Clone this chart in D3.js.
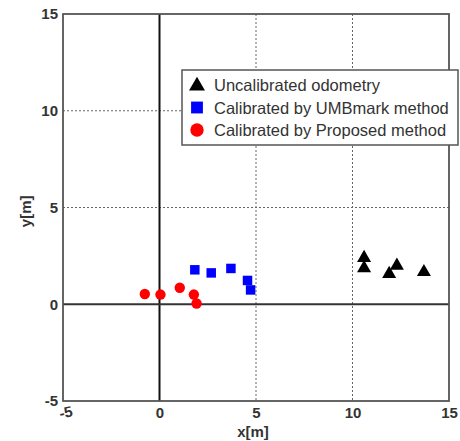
<!DOCTYPE html>
<html>
<head>
<meta charset="utf-8">
<script src="https://cdn.jsdelivr.net/npm/d3@7"></script>
<style>
  body { margin: 0; background: #fff; }
  text { font-family: "Liberation Sans", Arial, sans-serif; }
</style>
</head>
<body>
<svg id="chart"></svg>
<script>
// data
let uncalX = [10.6, 10.6, 12.3, 11.9, 13.7];
let uncalY = [2.45, 1.92, 2.05, 1.62, 1.72];

let umbX = [1.83, 2.68, 3.7, 4.56, 4.72];
let umbY = [1.78, 1.62, 1.85, 1.23, 0.74];

let propX = [-0.76, 0.05, 1.05, 1.78, 1.92];
let propY = [0.53, 0.5, 0.85, 0.5, 0.04];

let xTicks = [-5, 0, 5, 10, 15];
let yTicks = [-5, 0, 5, 10, 15];
let gridVals = [5, 10];

let legendLabels = ["Uncalibrated odometry", "Calibrated by UMBmark method", "Calibrated by Proposed method"];

let width = 460;
let height = 441;
let margin = {top: 14, right: 11, bottom: 40, left: 63};

let svg = d3.select("#chart").attr("width", width).attr("height", height);

let xScale = d3.scaleLinear().domain([-5, 15]).range([margin.left, width - margin.right]);
let yScale = d3.scaleLinear().domain([-5, 15]).range([height - margin.bottom, margin.top]);

let triangle = d3.symbol().type(d3.symbolTriangle);
let square = d3.symbol().type(d3.symbolSquare);
let circle = d3.symbol().type(d3.symbolCircle);

// grid -----------------------------------------------------------
let grid = svg.append("g");
grid.selectAll(".gx")
  .data(gridVals)
  .join("line")
  .attr("x1", d => xScale(d)).attr("x2", d => xScale(d))
  .attr("y1", yScale(15)).attr("y2", yScale(-5))
  .attr("stroke", "#666").attr("stroke-width", 1).attr("stroke-dasharray", "2,2");
grid.selectAll(".gy")
  .data(gridVals)
  .join("line")
  .attr("y1", d => yScale(d)).attr("y2", d => yScale(d))
  .attr("x1", xScale(-5)).attr("x2", xScale(15))
  .attr("stroke", "#666").attr("stroke-width", 1).attr("stroke-dasharray", "2,2");

// zero lines
svg.append("line")
  .attr("x1", xScale(0)).attr("x2", xScale(0))
  .attr("y1", yScale(15)).attr("y2", yScale(-5))
  .attr("stroke", "#111").attr("stroke-width", 2);
svg.append("line")
  .attr("y1", yScale(0)).attr("y2", yScale(0))
  .attr("x1", xScale(-5)).attr("x2", xScale(15))
  .attr("stroke", "#333").attr("stroke-width", 2);

// frame
svg.append("rect")
  .attr("x", xScale(-5)).attr("y", yScale(15))
  .attr("width", xScale(15) - xScale(-5))
  .attr("height", yScale(-5) - yScale(15))
  .attr("fill", "none").attr("stroke", "#555").attr("stroke-width", 1.8);

// axes -----------------------------------------------------------
let xAxis = svg.append("g")
  .attr("transform", `translate(0, ${yScale(-5)})`)
  .call(d3.axisBottom(xScale).tickValues(xTicks).tickSize(0).tickPadding(6).tickFormat(d => d));
let yAxis = svg.append("g")
  .attr("transform", `translate(${xScale(-5)}, 0)`)
  .call(d3.axisLeft(yScale).tickValues(yTicks).tickSize(0).tickPadding(5).tickFormat(d => d));

[xAxis, yAxis].forEach(a => {
  a.select(".domain").remove();
  a.selectAll(".tick text")
    .attr("font-size", 15).attr("font-weight", "bold").attr("fill", "#333")
    .attr("font-family", "'Liberation Sans', Arial, sans-serif");
});
xAxis.selectAll(".tick text").filter(d => d === -5)
  .attr("transform", "rotate(-12)");

svg.append("text")
  .attr("x", xScale(5) - 3).attr("y", 437)
  .attr("text-anchor", "middle")
  .attr("font-size", 15).attr("font-weight", "bold").attr("fill", "#333")
  .text("x[m]");
svg.append("text")
  .attr("transform", `translate(31, ${yScale(4.8)}) rotate(-90)`)
  .attr("text-anchor", "middle")
  .attr("font-size", 15).attr("font-weight", "bold").attr("fill", "#333")
  .text("y[m]");

// points ---------------------------------------------------------
let pts = svg.append("g");
pts.selectAll(".prop")
  .data(d3.zip(propX, propY))
  .join("path")
  .attr("d", circle.size(85))
  .attr("transform", d => `translate(${xScale(d[0])}, ${yScale(d[1])})`)
  .attr("fill", "#ff0000");
pts.selectAll(".umb")
  .data(d3.zip(umbX, umbY))
  .join("path")
  .attr("d", square.size(90))
  .attr("transform", d => `translate(${xScale(d[0])}, ${yScale(d[1])})`)
  .attr("fill", "#0000ff");
pts.selectAll(".uncal")
  .data(d3.zip(uncalX, uncalY))
  .join("path")
  .attr("d", triangle.size(85))
  .attr("transform", d => `translate(${xScale(d[0])}, ${yScale(d[1]) + 1})`)
  .attr("fill", "#000");

// legend ---------------------------------------------------------
let legend = svg.append("g").attr("transform", "translate(182, 70)");
legend.append("rect")
  .attr("x", 0).attr("y", 0).attr("width", 276).attr("height", 75)
  .attr("fill", "#fff").attr("stroke", "#555").attr("stroke-width", 1.5);

let legendSymbols = [triangle.size(110)(), square.size(140)(), circle.size(140)()];
let legendColors = ["#000", "#0000ff", "#ff0000"];

let rows = legend.selectAll(".row")
  .data(legendLabels)
  .join("g")
  .attr("transform", (d, i) => `translate(0, ${15 + i * 22.5})`);
rows.append("path")
  .attr("d", (d, i) => legendSymbols[i])
  .attr("transform", (d, i) => `translate(15, ${i === 0 ? 1 : 0})`)
  .attr("fill", (d, i) => legendColors[i]);
rows.append("text")
  .attr("x", 32).attr("y", 6)
  .attr("font-size", 16.5).attr("fill", "#333")
  .text(d => d);
</script>
</body>
</html>
